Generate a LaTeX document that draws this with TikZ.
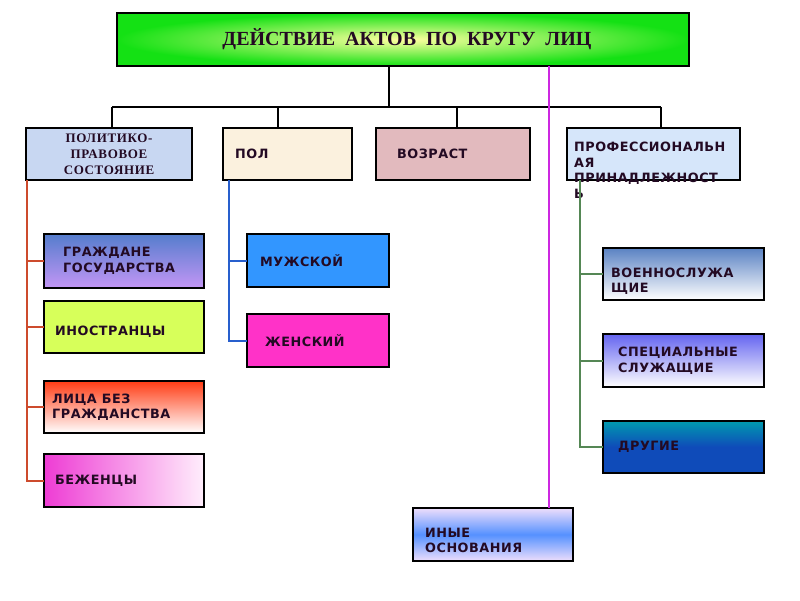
\documentclass[tikz,border=0pt]{standalone}
\usepackage{fontspec}
\setmainfont{Liberation Serif}
\newfontfamily\boxfont[LetterSpace=4]{DejaVu Sans}
\newfontfamily\serifsp[LetterSpace=5]{Liberation Serif}
\definecolor{txt}{RGB}{35,10,35}
\definecolor{tgreen}{RGB}{20,225,20}
\definecolor{tyellow}{RGB}{255,255,160}
\definecolor{c1}{RGB}{200,215,242}
\definecolor{c2}{RGB}{251,241,222}
\definecolor{c3}{RGB}{226,186,190}
\definecolor{c4}{RGB}{214,230,250}
\definecolor{grA}{RGB}{85,125,205}
\definecolor{grB}{RGB}{195,150,245}
\definecolor{ino}{RGB}{215,255,90}
\definecolor{liA}{RGB}{255,60,20}
\definecolor{beA}{RGB}{238,60,212}
\definecolor{beB}{RGB}{255,238,252}
\definecolor{mal}{RGB}{50,150,255}
\definecolor{fem}{RGB}{255,50,200}
\definecolor{voA}{RGB}{90,130,195}
\definecolor{spA}{RGB}{100,100,240}
\definecolor{drA}{RGB}{0,155,175}
\definecolor{drB}{RGB}{15,75,185}
\definecolor{inA}{RGB}{238,222,252}
\definecolor{inB}{RGB}{85,145,255}
\definecolor{lred}{RGB}{205,75,45}
\definecolor{lblue}{RGB}{40,95,205}
\definecolor{lgreen}{RGB}{85,135,85}
\definecolor{lmag}{RGB}{205,40,225}
\newcommand\bx[6]{\node[box,minimum width={#4pt-#2pt},minimum height={#5pt-#3pt},#6] (#1) at (#2,#3) {};}
\begin{document}
\begin{tikzpicture}[x=1pt,y=-1pt,
  box/.style={draw=black,line width=2.2pt,rectangle,inner sep=0pt,outer sep=0pt,anchor=north west},
  lbl/.style={anchor=west,align=left,inner sep=0pt,text=txt,font=\boxfont\bfseries\fontsize{12.8}{15.5}\selectfont},
  sbl/.style={align=center,inner sep=0pt,text=txt,font=\serifsp\bfseries\fontsize{13}{16}\selectfont},
  conn/.style={line width=2pt,draw=black},
  redl/.style={line width=2pt,draw=lred},
  bluel/.style={line width=2pt,draw=lblue},
  greenl/.style={line width=2pt,draw=lgreen},
  magl/.style={line width=2pt,draw=lmag}]
\path[fill=white] (0,0) rectangle (800,600);
\useasboundingbox (0,0) rectangle (800,600);
% boxes
\bx{title}{117}{13}{689}{66}{shading=radial,inner color=tyellow,outer color=tgreen,line width=2.6pt}
\bx{b1}{26}{128}{192}{180}{fill=c1}
\bx{b2}{223}{128}{352}{180}{fill=c2}
\bx{b3}{376}{128}{530}{180}{fill=c3}
\bx{b4}{567}{128}{740}{180}{fill=c4}
\bx{g1}{44}{234}{204}{288}{top color=grA,bottom color=grB}
\bx{g2}{44}{301}{204}{353}{fill=ino}
\bx{g3}{44}{381}{204}{433}{top color=liA,bottom color=white}
\bx{g4}{44}{454}{204}{507}{left color=beA,right color=beB}
\bx{m1}{247}{234}{389}{287}{fill=mal}
\bx{m2}{247}{314}{389}{367}{fill=fem}
\bx{p1}{603}{248}{764}{300}{top color=voA,bottom color=white}
\bx{p2}{603}{334}{764}{387}{top color=spA,bottom color=white}
\bx{p3}{603}{421}{764}{473}{top color=drA,bottom color=drB,middle color=drB}
\bx{oth}{413}{508}{573}{561}{top color=inA,bottom color=inA,middle color=inB}
% texts
\node[inner sep=0pt,text=txt,font=\bfseries\fontsize{20}{24}\selectfont] (tt) at ([xshift=4pt]title.center) {ДЕЙСТВИЕ\ \ АКТОВ\ \ ПО\ \ КРУГУ\ \ ЛИЦ};
\node[sbl] (t1) at (b1.center) {ПОЛИТИКО-\\ПРАВОВОЕ\\СОСТОЯНИЕ};
\node[lbl] (t2) at ([xshift=12pt]b2.west) {ПОЛ};
\node[lbl] (t3) at ([xshift=21pt]b3.west) {ВОЗРАСТ};
\node[lbl,yshift=-16pt] (t4) at ([xshift=7pt]b4.west) {ПРОФЕССИОНАЛЬН\\АЯ\\ПРИНАДЛЕЖНОСТ\\Ь};
\node[lbl] (tg1) at ([xshift=19pt]g1.west) {ГРАЖДАНЕ\\ГОСУДАРСТВА};
\node[lbl,yshift=-5pt] (tg2) at ([xshift=11pt]g2.west) {ИНОСТРАНЦЫ};
\node[lbl] (tg3) at ([xshift=8pt]g3.west) {ЛИЦА БЕЗ\\ГРАЖДАНСТВА};
\node[lbl] (tg4) at ([xshift=11pt]g4.west) {БЕЖЕНЦЫ};
\node[lbl] (tm1) at ([xshift=13pt]m1.west) {МУЖСКОЙ};
\node[lbl] (tm2) at ([xshift=18pt]m2.west) {ЖЕНСКИЙ};
\node[lbl,yshift=-7pt] (tp1) at ([xshift=8pt]p1.west) {ВОЕННОСЛУЖА\\ЩИЕ};
\node[lbl] (tp2) at ([xshift=15pt]p2.west) {СПЕЦИАЛЬНЫЕ\\СЛУЖАЩИЕ};
\node[lbl] (tp3) at ([xshift=15pt]p3.west) {ДРУГИЕ};
\node[lbl,yshift=-6pt] (to) at ([xshift=12pt]oth.west) {ИНЫЕ\\ОСНОВАНИЯ};
% connectors
\coordinate (hub) at (389,107);
\coordinate (hl) at (112,107);
\coordinate (hr) at (661,107);
\coordinate (d2) at (278,107);
\coordinate (d3) at (457,107);
\draw[conn] (title.south -| hub) -- (hub);
\draw[conn] (hl) -- (hr);
\draw[conn] (hl) -- (hl |- b1.north);
\draw[conn] (d2) -- (d2 |- b2.north);
\draw[conn] (d3) -- (d3 |- b3.north);
\draw[conn] (hr) -- (hr |- b4.north);
\coordinate (mg) at (549,66);
\draw[magl] (mg) -- (mg |- oth.north);
% red
\coordinate (rt) at (27,180);
\draw[redl] (rt) -- (rt |- g4.west) -- (g4.west);
\draw[redl] (rt |- g1.west) -- (g1.west);
\draw[redl] (rt |- g2.west) -- (g2.west);
\draw[redl] (rt |- g3.west) -- (g3.west);
% blue
\coordinate (bt) at (229,180);
\draw[bluel] (bt) -- (bt |- m2.west) -- (m2.west);
\draw[bluel] (bt |- m1.west) -- (m1.west);
% green
\coordinate (gt) at (580,180);
\draw[greenl] (gt) -- (gt |- p3.west) -- (p3.west);
\draw[greenl] (gt |- p1.west) -- (p1.west);
\draw[greenl] (gt |- p2.west) -- (p2.west);
\end{tikzpicture}
\end{document}
